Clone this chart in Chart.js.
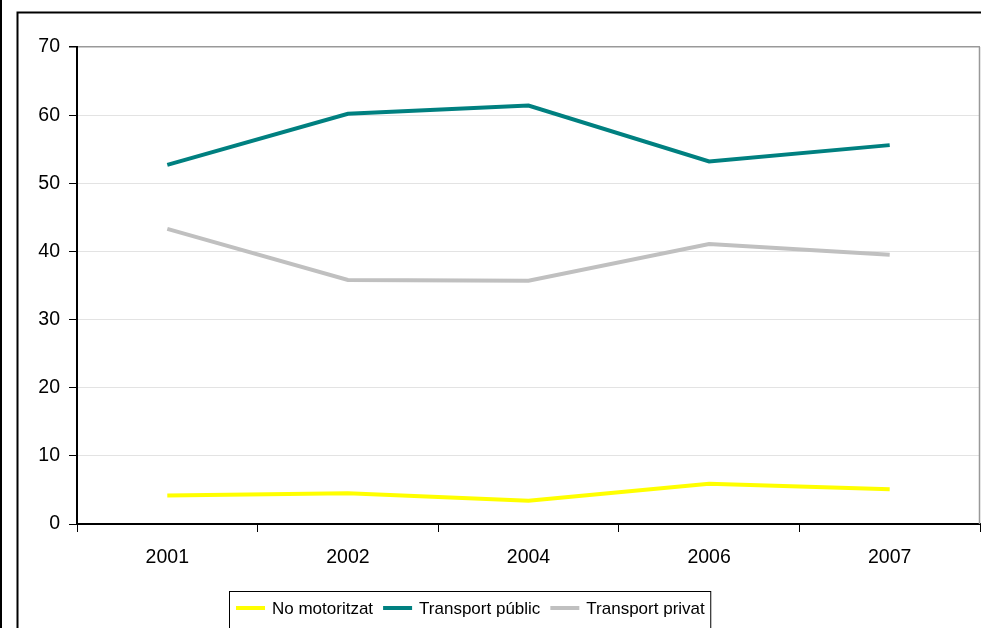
<!DOCTYPE html>
<html>
<head>
<meta charset="utf-8">
<script src="https://cdn.jsdelivr.net/npm/chart.js@4/dist/chart.umd.min.js"></script>
<style>
html,body{margin:0;padding:0;background:#fff;}
canvas{display:block;}
</style>
</head>
<body>
<canvas id="c" width="981" height="628"></canvas>
<script>
const categories = ['2001', '2002', '2004', '2006', '2007'];
const noMotoritzat = [4.2, 4.5, 3.4, 5.9, 5.1];
const transportPublic = [52.7, 60.2, 61.4, 53.2, 55.6];
const transportPrivat = [43.3, 35.8, 35.7, 41.1, 39.5];
const seriesLabels = ['No motoritzat', 'Transport públic', 'Transport privat'];
const seriesColors = ['#FFFF00', '#008080', '#C0C0C0'];

const FONT = '"Liberation Sans", Arial, sans-serif';

const framePlugin = {
  id: 'frame',
  beforeDraw(chart) {
    const ctx = chart.ctx;
    ctx.save();
    ctx.fillStyle = '#fff';
    ctx.fillRect(0, 0, chart.width, chart.height);
    ctx.restore();
  },
  afterDraw(chart) {
    const ctx = chart.ctx;
    const ca = chart.chartArea;
    ctx.save();
    // outer frames
    ctx.strokeStyle = '#000';
    ctx.lineWidth = 2;
    ctx.beginPath();
    ctx.moveTo(1, 0); ctx.lineTo(1, chart.height);
    ctx.stroke();
    ctx.beginPath();
    ctx.moveTo(17.5, chart.height + 5);
    ctx.lineTo(17.5, 12.5);
    ctx.lineTo(chart.width + 5, 12.5);
    ctx.stroke();
    // right border of plot area
    ctx.strokeStyle = '#999';
    ctx.lineWidth = 1.5;
    ctx.beginPath();
    ctx.moveTo(Math.round(ca.right) - 0.5, ca.top);
    ctx.lineTo(Math.round(ca.right) - 0.5, ca.bottom);
    ctx.stroke();
    // legend
    ctx.font = '17px ' + FONT;
    ctx.textBaseline = 'middle';
    const ly = 608;
    let x = 236;
    chart.data.datasets.forEach((ds) => {
      ctx.strokeStyle = ds.borderColor;
      ctx.lineWidth = 4;
      ctx.beginPath();
      ctx.moveTo(x, ly); ctx.lineTo(x + 29, ly);
      ctx.stroke();
      ctx.fillStyle = '#000';
      ctx.fillText(ds.label, x + 36, ly + 1);
      x = x + 36 + ctx.measureText(ds.label).width + 10;
    });
    ctx.strokeStyle = '#000';
    ctx.lineWidth = 1;
    ctx.strokeRect(229.5, 591.5, x - 10 + 6 - 229.5, 60);
    ctx.restore();
  }
};

new Chart(document.getElementById('c'), {
  type: 'line',
  data: {
    labels: categories,
    datasets: [noMotoritzat, transportPublic, transportPrivat].map((d, i) => ({
      label: seriesLabels[i],
      data: d,
      borderColor: seriesColors[i],
      backgroundColor: seriesColors[i],
      borderWidth: 4,
      pointRadius: 0,
      tension: 0,
      fill: false
    }))
  },
  options: {
    responsive: false,
    animation: false,
    devicePixelRatio: 1,
    layout: { padding: { left: 0, top: 47, right: 1, bottom: 0 } },
    plugins: { legend: { display: false }, tooltip: { enabled: false } },
    scales: {
      x: {
        offset: true,
        grid: { offset: true, drawOnChartArea: false, tickColor: '#000', tickLength: 8, lineWidth: 1 },
        border: { color: '#000', width: 2 },
        ticks: { color: '#000', font: { family: FONT, size: 19.5 }, padding: 14, maxRotation: 0 },
        afterFit(s) { s.height = 104; }
      },
      y: {
        min: 0, max: 70,
        grid: {
          color: (c) => (c.tick && c.tick.value === 70 ? '#999' : '#e3e3e3'),
          tickColor: '#000', tickLength: 8, lineWidth: (c) => (c.tick && c.tick.value === 70 ? 1.5 : 1)
        },
        border: { color: '#000', width: 2 },
        ticks: { stepSize: 10, color: '#000', font: { family: FONT, size: 19.5 }, padding: 9 },
        afterFit(s) { s.width = 77; }
      }
    }
  },
  plugins: [framePlugin]
});
</script>
</body>
</html>
